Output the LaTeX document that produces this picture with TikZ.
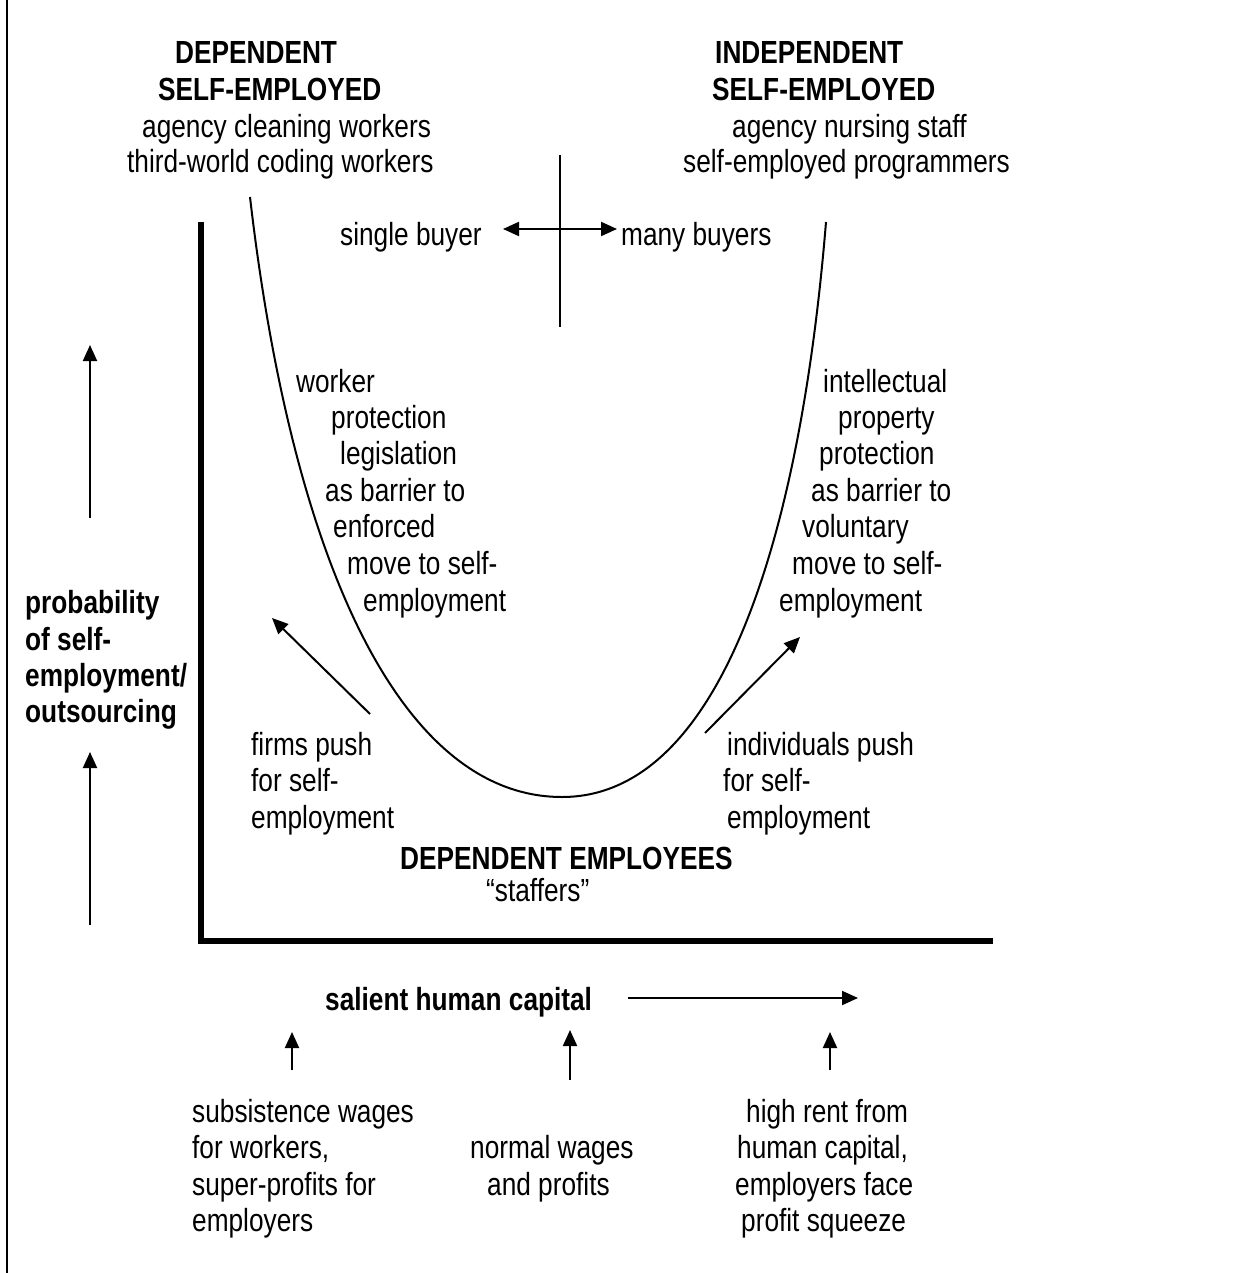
\documentclass[tikz,border=0pt]{standalone}
\usepackage{fontspec}
\setmainfont{Liberation Sans}[FakeStretch=0.82]
\usetikzlibrary{arrows.meta}
\begin{document}
\begin{tikzpicture}[x=1pt,y=-1pt,
  txt/.style={anchor=base west, inner sep=0pt, font=\fontsize{32}{36.5}\selectfont},
  btxt/.style={anchor=base west, inner sep=0pt, font=\fontsize{32}{36.5}\selectfont\bfseries},
  arr/.style={line width=2pt, -{Triangle[length=16pt,width=14pt]}},
  darr/.style={line width=2pt, {Triangle[length=16pt,width=14pt]}-{Triangle[length=16pt,width=14pt]}},
  curve/.style={line width=2pt},
  axis/.style={line width=6pt, miter limit=10},
  frame/.style={line width=2.5pt}]
\useasboundingbox (0,0) rectangle (1241,1273);
% left frame line
\coordinate (ft) at (7,0); \coordinate (fb) at (7,1273);
\draw[frame] (ft) -- (fb);
% axes
\coordinate (ytop) at (201,222); \coordinate (org) at (201,941); \coordinate (xend) at (993,941);
\draw[axis] (ytop) -- (org) -- (xend);
% U-curve
\coordinate (cl) at (250,197); \coordinate (cm) at (562,797); \coordinate (cr) at (826,222);
\draw[curve] (cl) .. controls (292,560) and (400,797) .. (cm)
             .. controls (720,797) and (800,540) .. (cr);
% central cross
\coordinate (vt) at (560,155); \coordinate (vb) at (560,327);
\draw[line width=2pt] (vt) -- (vb);
\coordinate (hl) at (503,229); \coordinate (hr) at (617,229);
\draw[darr] (hl) -- (hr);
% top texts
\node[btxt] (d1) at (175,64) {DEPENDENT};
\node[btxt] (d2) at (158,101) {SELF-EMPLOYED};
\node[txt] (d3) at (142,138) {agency cleaning workers};
\node[txt] (d4) at (127,173) {third-world coding workers};
\node[btxt] (i1) at (715,64) {INDEPENDENT};
\node[btxt] (i2) at (712,101) {SELF-EMPLOYED};
\node[txt] (i3) at (732,138) {agency nursing staff};
\node[txt] (i4) at (683,173) {self-employed programmers};
\node[txt] (sb) at (340,246) {single buyer};
\node[txt] (mb) at (621,246) {many buyers};
% left curve text
\node[txt] (l1) at (296,392) {worker};
\node[txt] (l2) at (331,428) {protection};
\node[txt] (l3) at (340,464) {legislation};
\node[txt] (l4) at (325,501) {as barrier to};
\node[txt] (l5) at (333,537) {enforced};
\node[txt] (l6) at (347,574) {move to self-};
\node[txt] (l7) at (363,611) {employment};
% right curve text
\node[txt] (r1) at (823,392) {intellectual};
\node[txt] (r2) at (838,428) {property};
\node[txt] (r3) at (819,464) {protection};
\node[txt] (r4) at (811,501) {as barrier to};
\node[txt] (r5) at (802,537) {voluntary};
\node[txt] (r6) at (792,574) {move to self-};
\node[txt] (r7) at (779,611) {employment};
% y-axis label
\node[btxt] (p1) at (25,613) {probability};
\node[btxt] (p2) at (25,650) {of self-};
\node[btxt] (p3) at (25,686) {employment/};
\node[btxt] (p4) at (25,722) {outsourcing};
\coordinate (ua1) at (90,518); \coordinate (ua2) at (90,345);
\draw[arr] (ua1) -- (ua2);
\coordinate (la1) at (90,925); \coordinate (la2) at (90,752);
\draw[arr] (la1) -- (la2);
% push texts and arrows
\node[txt] (f1) at (251,755) {firms push};
\node[txt] (f2) at (251,791) {for self-};
\node[txt] (f3) at (251,828) {employment};
\node[txt] (g1) at (727,755) {individuals push};
\node[txt] (g2) at (723,791) {for self-};
\node[txt] (g3) at (727,828) {employment};
\coordinate (fa1) at (370,714); \coordinate (fa2) at (272,618);
\draw[arr] (fa1) -- (fa2);
\coordinate (ga1) at (705,733); \coordinate (ga2) at (800,637);
\draw[arr] (ga1) -- (ga2);
% dependent employees
\node[btxt] (de) at (400,869) {DEPENDENT EMPLOYEES};
\node[txt] (st) at (486,901) {“staffers”};
% x-axis label
\node[btxt] (sh) at (325,1010) {salient human capital};
\coordinate (xa1) at (628,998); \coordinate (xa2) at (858,998);
\draw[arr] (xa1) -- (xa2);
\coordinate (b1a) at (292,1070); \coordinate (b1b) at (292,1032);
\draw[arr] (b1a) -- (b1b);
\coordinate (b2a) at (570,1080); \coordinate (b2b) at (570,1030);
\draw[arr] (b2a) -- (b2b);
\coordinate (b3a) at (830,1070); \coordinate (b3b) at (830,1032);
\draw[arr] (b3a) -- (b3b);
% bottom texts
\node[txt] (s1) at (192,1122) {subsistence wages};
\node[txt] (s2) at (192,1158) {for workers,};
\node[txt] (s3) at (192,1195) {super-profits for};
\node[txt] (s4) at (192,1231) {employers};
\node[txt] (n1) at (470,1158) {normal wages};
\node[txt] (n2) at (487,1195) {and profits};
\node[txt] (h1) at (746,1122) {high rent from};
\node[txt] (h2) at (737,1158) {human capital,};
\node[txt] (h3) at (735,1195) {employers face};
\node[txt] (h4) at (741,1231) {profit squeeze};
\end{tikzpicture}
\end{document}
